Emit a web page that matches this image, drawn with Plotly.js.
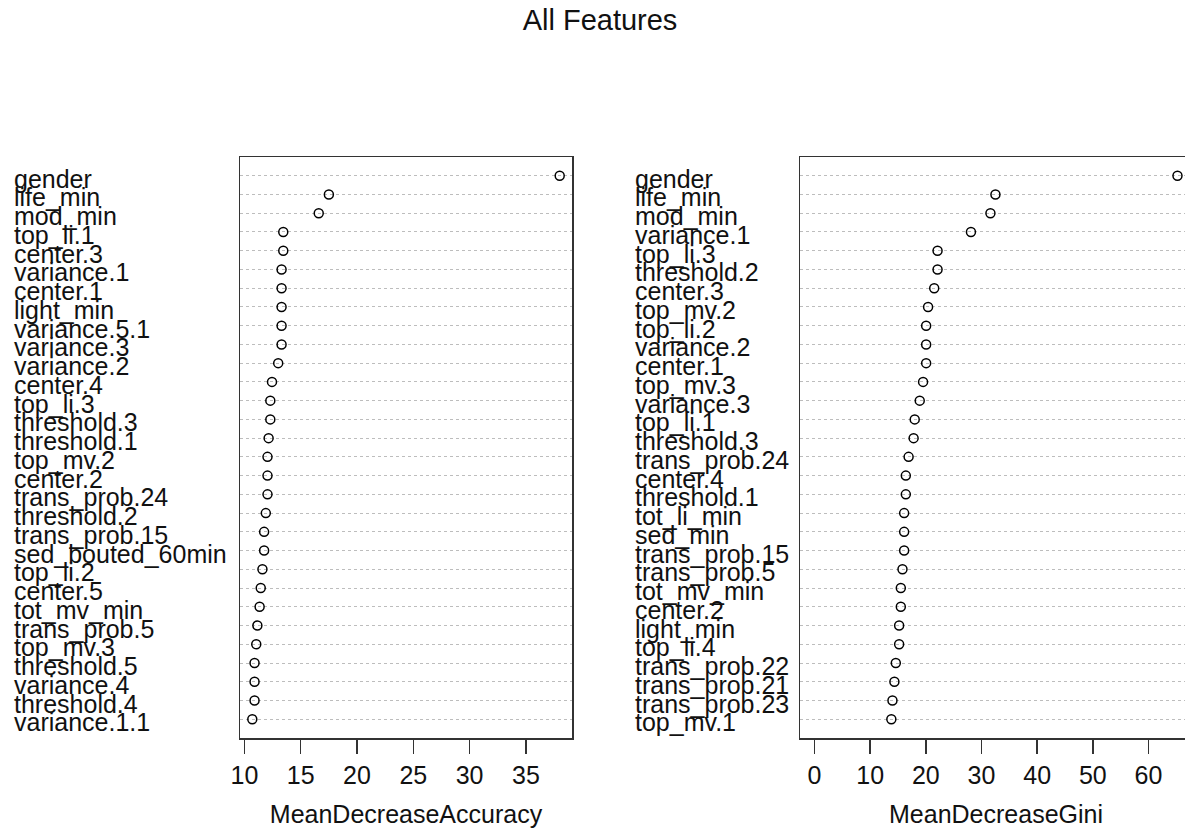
<!DOCTYPE html>
<html>
<head>
<meta charset="utf-8">
<script src="https://cdn.plot.ly/plotly-3.0.1.min.js"></script>
<style>
  html, body { margin: 0; padding: 0; overflow: hidden; background: #fff; }
  #plot { width: 1200px; height: 831px; }
</style>
</head>
<body>
<div id="plot"></div>
<script>
// Variable importance, listed from most to least important (top row first)
const accLabels = [
  "gender", "life_min", "mod_min", "top_li.1", "center.3", "variance.1",
  "center.1", "light_min", "variance.5.1", "variance.3", "variance.2",
  "center.4", "top_li.3", "threshold.3", "threshold.1", "top_mv.2",
  "center.2", "trans_prob.24", "threshold.2", "trans_prob.15",
  "sed_bouted_60min", "top_li.2", "center.5", "tot_mv_min", "trans_prob.5",
  "top_mv.3", "threshold.5", "variance.4", "threshold.4", "variance.1.1"
];
const accValues = [
  38.0, 17.5, 16.6, 13.45, 13.45, 13.3,
  13.3, 13.3, 13.3, 13.3, 13.0,
  12.45, 12.3, 12.3, 12.15, 12.05,
  12.05, 12.05, 11.9, 11.75,
  11.75, 11.6, 11.45, 11.35, 11.15,
  11.05, 10.9, 10.9, 10.9, 10.7
];

const giniLabels = [
  "gender", "life_min", "mod_min", "variance.1", "top_li.3", "threshold.2",
  "center.3", "top_mv.2", "top_li.2", "variance.2", "center.1", "top_mv.3",
  "variance.3", "top_li.1", "threshold.3", "trans_prob.24", "center.4",
  "threshold.1", "tot_li_min", "sed_min", "trans_prob.15", "trans_prob.5",
  "tot_mv_min", "center.2", "light_min", "top_li.4", "trans_prob.22",
  "trans_prob.21", "trans_prob.23", "top_mv.1"
];
const giniValues = [
  65.2, 32.5, 31.6, 28.1, 22.1, 22.1,
  21.5, 20.4, 20.05, 20.05, 20.05, 19.5,
  18.9, 18.0, 17.8, 16.9, 16.4,
  16.4, 16.1, 16.1, 16.1, 15.8,
  15.5, 15.5, 15.2, 15.2, 14.6,
  14.35, 14.0, 13.8
];

const W = 1200, H = 831;
const FONT = "Liberation Sans, Arial, sans-serif";
const frameColor = "#333333";

// dotchart-style limits: data range padded by 4% on each side
function padRange(lo, hi) {
  const d = hi - lo;
  return [lo - 0.04 * d, hi + 0.04 * d];
}
const accRange = padRange(Math.min(...accValues), Math.max(...accValues));
const giniRange = padRange(0, Math.max(...giniValues));

const nRows = accLabels.length;
const yDomain = [1 - 738 / H, 1 - 157 / H];

function dotTrace(labels, values, xa, ya) {
  return {
    type: "scatter",
    mode: "markers",
    x: values,
    y: labels,
    xaxis: xa,
    yaxis: ya,
    marker: {
      symbol: "circle-open",
      size: 9,
      color: "#000",
      line: { width: 1.5, color: "#000" }
    },
    hoverinfo: "x+y",
    showlegend: false
  };
}

function xAxis(range, dtick, tick0, domain, title, anchor) {
  return {
    domain: domain,
    range: range,
    anchor: anchor,
    tick0: tick0,
    dtick: dtick,
    showgrid: false,
    zeroline: false,
    showline: true,
    mirror: true,
    linecolor: frameColor,
    linewidth: 1.5,
    ticks: "outside",
    ticklen: 14,
    tickwidth: 1.5,
    tickcolor: frameColor,
    tickfont: { family: FONT, size: 25, color: "#111" },
    title: { text: title, font: { family: FONT, size: 25, color: "#111" }, standoff: 18 }
  };
}

function yAxis(labels, anchor) {
  return {
    domain: yDomain,
    type: "category",
    categoryorder: "array",
    categoryarray: labels,
    range: [nRows, -1],
    anchor: anchor,
    showticklabels: false,
    ticks: "",
    showgrid: true,
    gridcolor: "#bdbdbd",
    gridwidth: 1,
    griddash: "dot",
    zeroline: false,
    showline: true,
    mirror: true,
    linecolor: frameColor,
    linewidth: 1.5
  };
}

// Row labels, left-aligned in the margin of each panel
function rowLabels(labels, xPix, yref) {
  return labels.map(name => ({
    xref: "paper",
    yref: yref,
    x: xPix / W,
    y: name,
    xanchor: "left",
    yanchor: "middle",
    yshift: -3,
    text: name,
    showarrow: false,
    font: { family: FONT, size: 25, color: "#111" }
  }));
}

const data = [
  dotTrace(accLabels, accValues, "x", "y"),
  dotTrace(giniLabels, giniValues, "x2", "y2")
];

const layout = {
  width: W,
  height: H,
  margin: { l: 0, r: 0, t: 0, b: 0, pad: 0 },
  paper_bgcolor: "#fff",
  plot_bgcolor: "#fff",
  title: {
    text: "All Features",
    font: { family: FONT, size: 29, color: "#111" },
    x: 600 / W,
    xref: "container",
    xanchor: "center",
    y: 1 - 20 / H,
    yref: "container",
    yanchor: "middle"
  },
  xaxis: xAxis(accRange, 5, 10, [240 / W, 572 / W], "MeanDecreaseAccuracy", "y"),
  yaxis: yAxis(accLabels, "x"),
  xaxis2: xAxis(giniRange, 10, 0, [800 / W, 1192 / W], "MeanDecreaseGini", "y2"),
  yaxis2: yAxis(giniLabels, "x2"),
  annotations: rowLabels(accLabels, 12, "y").concat(rowLabels(giniLabels, 633, "y2"))
};

Plotly.newPlot("plot", data, layout, { staticPlot: true, displayModeBar: false });
</script>
</body>
</html>
